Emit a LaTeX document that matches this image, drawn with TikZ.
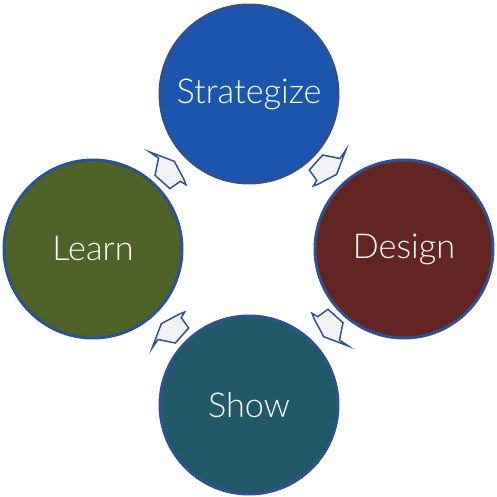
\documentclass[tikz,border=0pt]{standalone}
\usepackage{fontspec}
\setmainfont{Lato}[UprightFont=* Light]
\definecolor{cstrat}{HTML}{1B55AE}
\definecolor{cdesign}{HTML}{632523}
\definecolor{clearn}{HTML}{4F6228}
\definecolor{cshow}{HTML}{215968}
\definecolor{cborder}{HTML}{2F528F}
\definecolor{carrow}{HTML}{F2F2F2}
\tikzset{
  stage/.style={circle, draw=cborder, line width=1.7pt, minimum size=178*0.02cm, inner sep=0pt,
    text=white, font=\fontsize{19.5}{22}\selectfont},
  cyclearrow/.style={draw=cborder, fill=carrow, line width=0.85pt, line join=miter}
}
\begin{document}
\begin{tikzpicture}[x=0.02cm,y=-0.02cm]
\useasboundingbox (0,0) rectangle (497,497);
\coordinate (c) at (249,249);
\node[stage, fill=cstrat]  (strat)  at (249,94)  {Strategize};
\node[stage, fill=cdesign] (design) at (404,249) {Design};
\node[stage, fill=cshow]   (show)   at (249,405) {Show};
\node[stage, fill=clearn]  (learn)  at (93,249)  {Learn};
\foreach \k in {0,1,2,3}{
  \begin{scope}[shift={(c)}, rotate=-90*\k]
    \draw[cyclearrow] (-99.3,-97) -- (-74.7,-87.7) -- (-65,-69.5) -- (-63,-64.3) -- (-68.7,-67.7)
      -- (-79,-60.3) -- (-94,-73.7) -- (-90.5,-91) -- cycle;
  \end{scope}
}
\end{tikzpicture}
\end{document}
